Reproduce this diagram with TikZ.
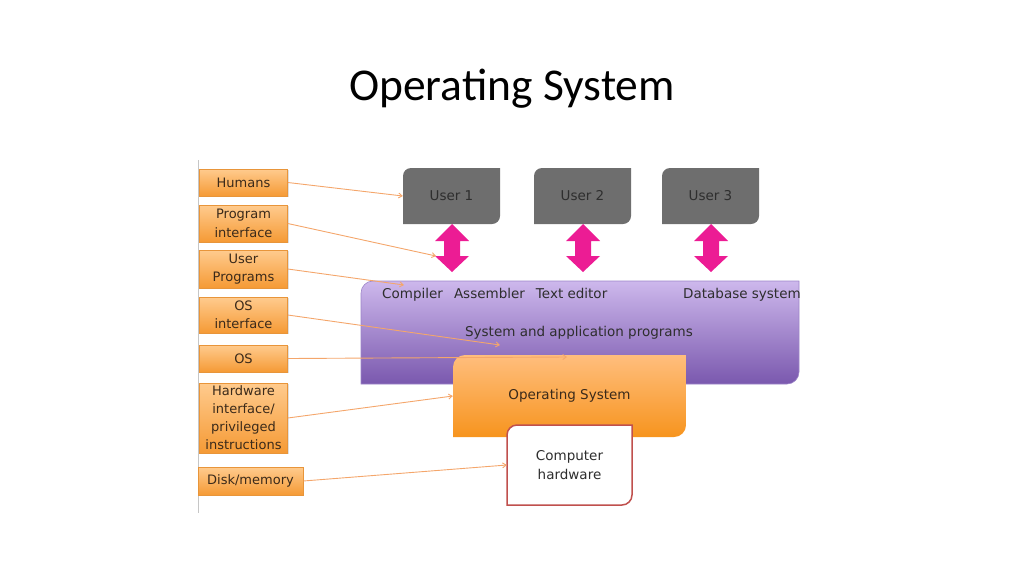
\documentclass[tikz,border=0pt]{standalone}
\usepackage{fontspec}
\setmainfont{DejaVu Sans}
\newfontfamily\titlefont{Carlito}
\usetikzlibrary{arrows.meta,shadows}
\definecolor{lorTop}{HTML}{FFCB8E}
\definecolor{lorBot}{HTML}{F59A35}
\definecolor{lorLine}{HTML}{E8953A}
\definecolor{ltext}{HTML}{3B2A1A}
\definecolor{usergray}{HTML}{6E6E6E}
\definecolor{purTop}{HTML}{CDB8EC}
\definecolor{purBot}{HTML}{7A58AE}
\definecolor{purLine}{HTML}{9C84C8}
\definecolor{osTop}{HTML}{FFBE7D}
\definecolor{osBot}{HTML}{F7941E}
\definecolor{hwLine}{HTML}{C0504D}
\definecolor{pinkc}{HTML}{EC1C94}
\definecolor{connc}{HTML}{F4A66B}
\definecolor{dtext}{HTML}{2E2E2E}
\newcommand{\rbox}[8]{%
  \path[#1] (#3,#6) -- (#3,#4+#7)
      .. controls (#3,#4+0.448*#7) and (#3+0.448*#7,#4) .. (#3+#7,#4)
    -- (#5,#4) -- (#5,#6-#7)
      .. controls (#5,#6-0.448*#7) and (#5-0.448*#7,#6) .. (#5-#7,#6) -- cycle;
  \node[boxtext, minimum width=#5pt-#3pt, minimum height=#6pt-#4pt] (#2)
    at ({(#3+#5)/2},{(#4+#6)/2}) {#8};}
\newcommand{\dblarrow}[2]{%
  \coordinate (#1) at (#2,248);
  \fill[pinkc] (#2,224) -- (#2+17,241) -- (#2+8,241) -- (#2+8,256) -- (#2+17,256)
    -- (#2,272) -- (#2-17,256) -- (#2-8,256) -- (#2-8,241) -- (#2-17,241) -- cycle;}
\tikzset{
  boxtext/.style={inner sep=0pt, align=center, text=dtext, font=\fontsize{13.5}{19}\selectfont},
  lbox/.style={draw=lorLine, line width=0.6pt, top color=lorTop, bottom color=lorBot,
    minimum width=88pt, inner sep=1pt, align=center, text=ltext,
    font=\fontsize{13}{18.5}\selectfont,
    drop shadow={opacity=0.25, shadow xshift=1.2pt, shadow yshift=-1.2pt}},
  ptext/.style={inner sep=0pt, text=dtext, font=\fontsize{13.5}{19}\selectfont},
  conn/.style={draw=connc, line width=0.9pt, -{Straight Barb[length=3.5pt,width=5pt]}}
}
\begin{document}
\begin{tikzpicture}[x=1pt,y=-1pt]
\useasboundingbox (0,0) rectangle (1024,576);
\node[font=\titlefont\fontsize{45.5}{50}\selectfont, anchor=base] (title) at (512,100) {Operating System};

\draw[gray!45, line width=0.8pt] (198,160) -- (198,513);

% left labels
\node[lbox, minimum height=27pt] (hum) at (243.5,182.5) {Humans};
\node[lbox, minimum height=37pt] (prog) at (243.5,223.5) {Program\\interface};
\node[lbox, minimum height=38pt] (uprog) at (243.5,269) {User\\Programs};
\node[lbox, minimum height=36pt] (osi) at (243.5,315) {OS\\interface};
\node[lbox, minimum height=27pt] (os) at (243.5,358.5) {OS};
\node[lbox, minimum height=70pt, font=\fontsize{13}{18}\selectfont] (hw) at (243.5,418) {Hardware\\interface/\\privileged\\instructions};
\node[lbox, minimum width=105pt, minimum height=28pt] (disk) at (250.5,481) {Disk/memory};

% users
\rbox{fill=usergray}{u1}{403}{168}{500}{224}{8}{User 1}
\rbox{fill=usergray}{u2}{534}{168}{631}{224}{8}{User 2}
\rbox{fill=usergray}{u3}{662}{168}{759}{224}{8}{User 3}

% purple programs box
\rbox{top color=purTop, bottom color=purBot, draw=purLine, line width=0.6pt}{sys}{361}{281}{799}{384}{12}{}
\node[ptext, anchor=west] (comp) at (382,295) {Compiler\hspace{0.5em} Assembler\hspace{0.5em} Text editor};
\node[ptext, anchor=west] (db) at (683,295) {Database system};
\node[ptext] (sysapp) at (579,333) {System and application programs};

% operating system box
\rbox{top color=osTop, bottom color=osBot}{osb}{453}{355}{686}{437}{12}{\textcolor{ltext}{Operating System}}

% hardware box
\rbox{fill=white, draw=hwLine, line width=1.5pt}{hwb}{507}{425}{632}{505}{10}{Computer\\hardware}

% pink double arrows
\dblarrow{a1}{452}
\dblarrow{a2}{583}
\dblarrow{a3}{711}

% connector ends
\coordinate (e1) at (436,256);
\coordinate (e2) at (404,285);
\coordinate (e3) at (500,345);
\coordinate (e4) at (567,357);

\draw[conn] (hum.east) -- (u1.west);
\draw[conn] (prog.east) -- (e1);
\draw[conn] (uprog.east) -- (e2);
\draw[conn] (osi.east) -- (e3);
\draw[conn] (os.east) -- (e4);
\draw[conn] (hw.east) -- (osb.west);
\draw[conn] (disk.east) -- (hwb.west);
\end{tikzpicture}
\end{document}
